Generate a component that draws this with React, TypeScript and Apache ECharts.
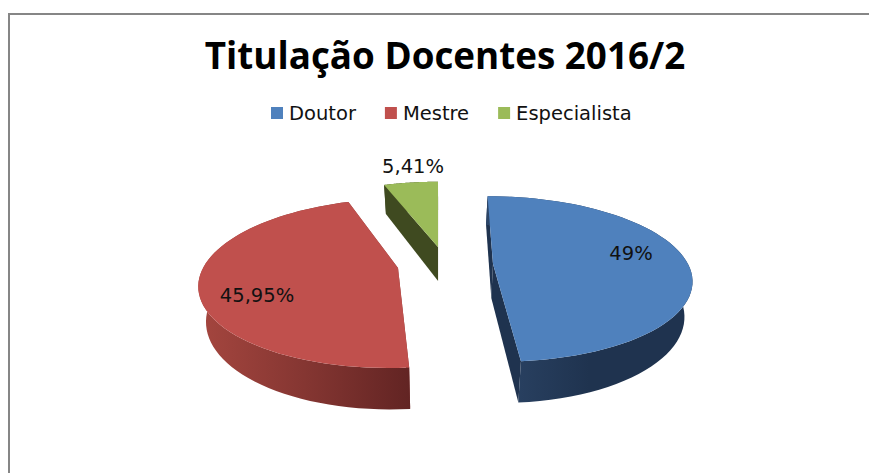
import React, { useEffect, useRef } from "react";
import * as echarts from "echarts";

const categories = ["Doutor", "Mestre", "Especialista"];
const values = [18, 17, 2];
const labels = ["49%", "45,95%", "5,41%"];
const topColors = ["#4f81bd", "#c0504d", "#9bbb59"];
const wallStops: [string, string, string][] = [
  ["#2c4567", "#1f334f", "#1f334f"],
  ["#a5463f", "#853632", "#622423"],
  ["#3f4a20", "#3f4a20", "#3f4a20"],
];
const edgeColors = ["#1f334f", "#8a3a36", "#3f4a20"];
const sliceCentres = [
  { cx: 493, cy: 264, a: 80, rx: 1, skew: 0.08 },
  { cx: 398, cy: 268, a: 82, rx: 1, skew: -0.09 },
  { cx: 438, cy: 247, a: 77, rx: 0.97, skew: 0 },
];
const labelOffsets = [
  [138, -11],
  [-141, 27],
  [-25, -81],
];

const R = 195;
const P = 0.18;
const THICK = 34;
const VANISH_X = 440;
const BOTTOM_SCALE = 0.968;
const total = values.reduce((s, v) => s + v, 0);

function project(theta: number, i: number) {
  const c = sliceCentres[i];
  const u = Math.sin(theta);
  const v = -Math.cos(theta);
  const w = 1 - P * v;
  const dy = (c.a * v) / w;
  return { x: c.cx + (R * c.rx * u) / w + c.skew * dy, y: c.cy + dy, w };
}
function lower(p: { x: number; y: number; w: number }) {
  return [VANISH_X + (p.x - VANISH_X) * BOTTOM_SCALE, p.y + THICK / p.w];
}

function makeRender(i: number) {
  return (_params: any, api: any) => {
    const value = api.value(0);
    const before = values.slice(0, i).reduce((s, v) => s + v, 0);
    const start = (before / total) * Math.PI * 2;
    const end = start + (value / total) * Math.PI * 2;
    const steps = 64;
    const arc: { x: number; y: number; w: number }[] = [];
    for (let k = 0; k <= steps; k++) arc.push(project(start + ((end - start) * k) / steps, i));
    const c = sliceCentres[i];
    const centre = { x: c.cx, y: c.cy, w: 1 };
    const stops = wallStops[i];
    const wallFill = new echarts.graphic.LinearGradient(0, 0, 1, 0, [
      { offset: 0, color: stops[0] },
      { offset: 0.5, color: stops[1] },
      { offset: 1, color: stops[2] },
    ]);
    const outer = [...arc.map((p) => [p.x, p.y]), ...arc.slice().reverse().map(lower)];
    const wallA = [[arc[0].x, arc[0].y], [centre.x, centre.y], lower(centre), lower(arc[0])];
    const last = arc[arc.length - 1];
    const wallB = [[last.x, last.y], [centre.x, centre.y], lower(centre), lower(last)];
    const face = [[centre.x, centre.y], ...arc.map((p) => [p.x, p.y])];
    const off = labelOffsets[i];
    return {
      type: "group",
      children: [
        { type: "polygon", shape: { points: wallA }, style: { fill: edgeColors[i] } },
        { type: "polygon", shape: { points: wallB }, style: { fill: edgeColors[i] } },
        { type: "polygon", shape: { points: outer }, style: { fill: wallFill } },
        { type: "polygon", shape: { points: face }, style: { fill: topColors[i] } },
        {
          type: "text",
          x: c.cx + off[0],
          y: c.cy + off[1],
          style: {
            text: labels[i],
            fill: "#111111",
            font: '19.5px "DejaVu Sans"',
            align: "center",
            verticalAlign: "middle",
          },
        },
      ],
    };
  };
}

export default function App() {
  const ref = useRef<HTMLDivElement>(null);
  useEffect(() => {
    const chart = echarts.init(ref.current!, null, { renderer: "svg" });
    chart.setOption({
      animation: false,
      backgroundColor: "#ffffff",
      title: {
        text: "Titulação Docentes 2016/2",
        left: 440,
        top: 31,
        textAlign: "center",
        textStyle: { fontFamily: "Open Sans", fontWeight: "bold", fontSize: 36.8, color: "#000000" },
      },
      legend: {
        data: categories,
        left: 266,
        top: 98,
        icon: "rect",
        itemWidth: 12,
        itemHeight: 12,
        itemGap: 29,
        textStyle: { fontFamily: "DejaVu Sans", fontSize: 19.5, color: "#111111", padding: [0, 0, 0, 1] },
      },
      graphic: [
        {
          type: "rect",
          shape: { x: 9, y: 14, width: 900, height: 500 },
          style: { fill: "none", stroke: "#868686", lineWidth: 2 },
          silent: true,
        },
      ],
      series: categories.map((name, i) => ({
        type: "custom",
        name,
        coordinateSystem: "none",
        itemStyle: { color: topColors[i] },
        renderItem: makeRender(i),
        data: [[values[i]]],
        silent: true,
      })),
    });
    return () => chart.dispose();
  }, []);
  return <div ref={ref} style={{ position: "fixed", left: 0, top: 0, width: 869, height: 473 }} />;
}
